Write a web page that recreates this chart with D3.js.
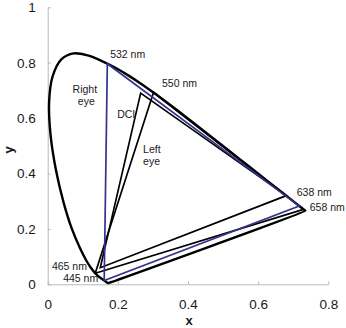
<!DOCTYPE html>
<html>
<head>
<meta charset="utf-8">
<script src="https://cdn.jsdelivr.net/npm/d3@7"></script>
<style>
  html, body { margin: 0; padding: 0; background: #fff; }
  svg { display: block; }
  text { font-family: "Liberation Sans", Arial, sans-serif; }
</style>
</head>
<body>
<svg id="chart" width="346" height="328"></svg>
<script>
// CIE 1931 2° spectral locus (chromaticity x, y)
const locusNm = [380,385,390,395,400,405,410,415,420,425,430,435,440,445,450,455,460,465,470,475,480,485,490,495,500,505,510,515,520,525,530,535,540,545,550,555,560,565,570,575,580,585,590,595,600,605,610,615,620,625,630,635,640,645,650,655,660,665,670,680,690,700];
const locusX = [0.1741,0.1740,0.1738,0.1736,0.1733,0.1730,0.1726,0.1721,0.1714,0.1703,0.1689,0.1669,0.1644,0.1611,0.1566,0.1510,0.1440,0.1355,0.1241,0.1096,0.0913,0.0687,0.0454,0.0235,0.0082,0.0039,0.0139,0.0389,0.0743,0.1142,0.1547,0.1929,0.2296,0.2658,0.3016,0.3373,0.3731,0.4087,0.4441,0.4788,0.5125,0.5448,0.5752,0.6029,0.6270,0.6482,0.6658,0.6801,0.6915,0.7006,0.7079,0.7140,0.7190,0.7230,0.7260,0.7283,0.7300,0.7311,0.7320,0.7334,0.7344,0.7347];
const locusY = [0.0050,0.0050,0.0049,0.0049,0.0048,0.0048,0.0048,0.0048,0.0051,0.0058,0.0069,0.0086,0.0109,0.0138,0.0177,0.0227,0.0297,0.0399,0.0578,0.0868,0.1327,0.2007,0.2950,0.4127,0.5384,0.6548,0.7502,0.8120,0.8338,0.8262,0.8059,0.7816,0.7543,0.7243,0.6923,0.6589,0.6245,0.5896,0.5547,0.5202,0.4866,0.4544,0.4242,0.3965,0.3725,0.3514,0.3340,0.3197,0.3083,0.2993,0.2920,0.2859,0.2809,0.2770,0.2740,0.2717,0.2700,0.2689,0.2680,0.2666,0.2656,0.2653];

// Gamut triangles (x, y of the three primaries)
const rightEyeX = [0.1700, 0.1611, 0.7170];   // 532, 445, 638 nm
const rightEyeY = [0.7962, 0.0138, 0.2829];
const leftEyeX  = [0.3016, 0.1355, 0.7293];   // 550, 465, 658 nm
const leftEyeY  = [0.6923, 0.0399, 0.2707];
const dciX      = [0.265, 0.150, 0.680];
const dciY      = [0.690, 0.060, 0.320];

const xTicks = [0, 0.2, 0.4, 0.6, 0.8];
const yTicks = [0, 0.2, 0.4, 0.6, 0.8, 1];
const xTickLabels = ["0", "0.2", "0.4", "0.6", "0.8"];
const yTickLabels = ["0", "0.2", "0.4", "0.6", "0.8", "1"];

// Annotation labels anchored in data coordinates
const labelText = ["532 nm", "550 nm", "Right", "eye", "DCI", "Left", "eye", "638 nm", "658 nm", "465 nm", "445 nm"];
const labelX    = [0.178, 0.326, 0.106, 0.110, 0.198, 0.272, 0.272, 0.710, 0.747, 0.012, 0.044];
const labelY    = [0.817, 0.712, 0.690, 0.647, 0.601, 0.474, 0.431, 0.319, 0.265, 0.052, 0.009];
const labelAnchor = ["start","start","middle","middle","start","start","start","start","start","start","start"];

const svg = d3.select("#chart");
const mLeft = 47.7, mRight = 328.3, mTop = 7.3, mBottom = 284.3;

const x = d3.scaleLinear().domain([0, 0.8]).range([mLeft, mRight]);
const y = d3.scaleLinear().domain([0, 1]).range([mBottom, mTop]);

const axisColor = "#b8b8b8";

// Axes
const gx = svg.append("g").attr("transform", `translate(0,${mBottom})`)
  .call(d3.axisBottom(x).tickValues(xTicks).tickFormat((d, i) => xTickLabels[i])
        .tickSizeInner(-3).tickSizeOuter(0).tickPadding(15));
const gy = svg.append("g").attr("transform", `translate(${mLeft},0)`)
  .call(d3.axisLeft(y).tickValues(yTicks).tickFormat((d, i) => yTickLabels[i])
        .tickSizeInner(-3).tickSizeOuter(0).tickPadding(12));
[gx, gy].forEach(g => {
  g.select(".domain").attr("stroke", axisColor).attr("stroke-width", 1);
  g.selectAll(".tick line").attr("stroke", axisColor);
  g.selectAll(".tick text").attr("fill", "#1a1a1a")
    .style("font-size", "13.5px").style("font-family", "'Liberation Sans', Arial, sans-serif");
});

// Axis titles
svg.append("text").attr("x", (mLeft + mRight) / 2 + 1).attr("y", 325)
  .attr("text-anchor", "middle").style("font-size", "13px").style("font-weight", "bold")
  .attr("fill", "#1a1a1a").text("x");
svg.append("text").attr("transform", `translate(13,${(mTop + mBottom) / 2 + 4}) rotate(-90)`)
  .attr("text-anchor", "middle").style("font-size", "13px").style("font-weight", "bold")
  .attr("fill", "#1a1a1a").text("y");

// Spectral locus (closed)
const locusPts = locusX.map((v, i) => [x(v), y(locusY[i])]);
svg.append("path")
  .attr("d", d3.line().curve(d3.curveCatmullRomClosed.alpha(0.5))(locusPts))
  .attr("fill", "none").attr("stroke", "#000").attr("stroke-width", 2.4)
  .attr("stroke-linejoin", "round");

// Triangles
function tri(xs, ys, color, w) {
  const pts = xs.map((v, i) => [x(v), y(ys[i])]);
  svg.append("path").attr("d", d3.line()(pts) + "Z")
    .attr("fill", "none").attr("stroke", color).attr("stroke-width", w)
    .attr("stroke-linejoin", "miter");
}
tri(dciX, dciY, "#000", 1.7);
tri(leftEyeX, leftEyeY, "#000", 1.7);
tri(rightEyeX, rightEyeY, "#33338f", 1.7);

// Labels
svg.append("g").selectAll("text").data(labelText).join("text")
  .attr("x", (d, i) => x(labelX[i]))
  .attr("y", (d, i) => y(labelY[i]))
  .attr("text-anchor", (d, i) => labelAnchor[i])
  .style("font-size", "10.5px").attr("fill", "#1a1a1a")
  .text(d => d);
</script>
</body>
</html>
